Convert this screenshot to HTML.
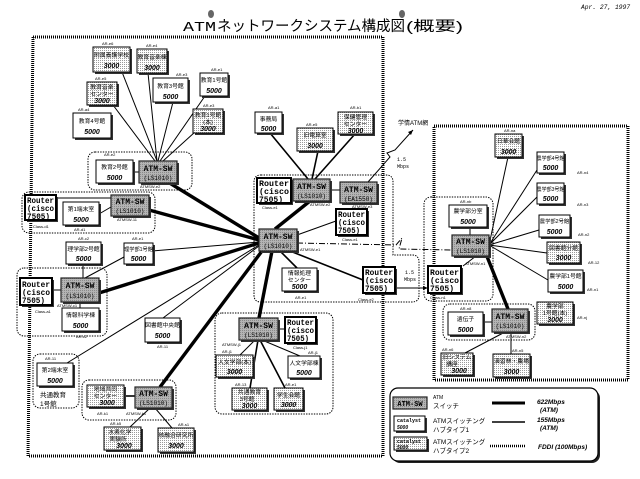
<!DOCTYPE html>
<html><head><meta charset="utf-8">
<style>
html,body{margin:0;padding:0;background:#fff;}
svg{display:block;}
.s{fill:#333}
.w{fill:#fff;stroke:#000;stroke-width:1}
.d{fill:url(#dt);stroke:#000;stroke-width:1}
.g{fill:url(#gr);stroke:#222;stroke-width:1.2}
.r{fill:#fff;stroke:#000;stroke-width:2}
.c{fill:none;stroke:#000;stroke-width:1;stroke-dasharray:1.4 1.2}
.f{fill:none;stroke:#000;stroke-width:3;stroke-dasharray:1 1}
.l1{stroke:#000;stroke-width:1;fill:none}
.l2{stroke:#000;stroke-width:1.6;fill:none}
.l3{stroke:#000;stroke-width:3.4;fill:none}
text{font-family:"Liberation Sans","Noto Sans CJK JP",sans-serif}
.j{font-size:5.8px;text-anchor:middle}
.n{font-size:7px;font-style:italic;font-weight:bold;text-anchor:middle}
.t{font-size:4px;font-family:"Liberation Mono",monospace}
.m{font-size:8px;font-family:"Liberation Mono",monospace;font-weight:bold;text-anchor:middle}
.ms{font-size:6px;font-family:"Liberation Mono",monospace;text-anchor:middle}
.rt{font-size:8px;font-family:"Liberation Mono",monospace;font-weight:bold}
.lg{font-size:6.5px}
.li{font-size:6.5px;font-style:italic;font-weight:bold}
</style></head>
<body>
<svg width="640" height="479" viewBox="0 0 640 479" xmlns="http://www.w3.org/2000/svg">
<defs>
<pattern id="dt" width="2" height="2" patternUnits="userSpaceOnUse"><rect width="2" height="2" fill="#fff"/><rect width="1" height="1" fill="#9a9a9a"/></pattern>
<pattern id="gr" width="2" height="2" patternUnits="userSpaceOnUse"><rect width="2" height="2" fill="#b4b4b4"/><rect width="1" height="1" fill="#8a8a8a"/></pattern>
</defs>

<!-- title -->
<ellipse cx="211" cy="14" rx="3" ry="4" fill="#666"/>
<ellipse cx="402" cy="14" rx="3" ry="4" fill="#666"/>
<text x="183" y="31" font-size="14" textLength="33" lengthAdjust="spacingAndGlyphs" style="font-family:'Liberation Mono',monospace">ATM</text>
<text x="217" y="31" font-size="14.5" textLength="188" lengthAdjust="spacingAndGlyphs" style="font-weight:normal">ネットワークシステム構成図</text>
<text x="406" y="31" font-size="14" textLength="57" lengthAdjust="spacingAndGlyphs">(概要)</text>
<text x="581" y="9" style="font-family:'Liberation Mono',monospace;font-size:6.3px;font-style:italic">Apr. 27, 1997</text>

<!-- frames -->
<polygon class="f" points="33,37 383,37 383,456 28,456"/>
<rect class="f" x="434" y="126" width="194" height="254"/>

<!-- clusters -->
<rect class="c" x="88" y="152" width="104" height="38" rx="7"/>
<rect class="c" x="22" y="192" width="133" height="41" rx="7"/>
<rect class="c" x="17" y="268" width="90" height="68" rx="7"/>
<rect class="c" x="33" y="354" width="46" height="54" rx="7"/>
<rect class="c" x="82" y="380" width="94" height="40" rx="7"/>
<path class="c" d="M261,175 H386 Q393,175 393,182 V255 H412 Q419,255 419,262 V295 Q419,302 412,302 H261 Q254,302 254,295 V182 Q254,175 261,175 Z"/>
<rect class="c" x="215" y="313" width="118" height="101" rx="7"/>
<rect class="c" x="424" y="197" width="69" height="104" rx="7"/>
<rect class="c" x="443" y="304" width="92" height="36" rx="7"/>

<!-- lines top-left -->
<line class="l1" x1="122" y1="72" x2="157" y2="161"/>
<line class="l1" x1="148" y1="73" x2="157" y2="161"/>
<line class="l1" x1="173" y1="102" x2="158" y2="161"/>
<line class="l1" x1="205" y1="96" x2="160" y2="161"/>
<line class="l1" x1="113" y1="105" x2="155" y2="161"/>
<line class="l1" x1="195" y1="132" x2="163" y2="161"/>
<line class="l1" x1="133" y1="172" x2="139" y2="172"/>
<!-- row 2,3 -->
<line class="l1" x1="56" y1="198" x2="111" y2="198"/>
<line class="l1" x1="99" y1="214" x2="111" y2="207"/>
<line class="l1" x1="83" y1="264" x2="83" y2="278"/>
<line class="l1" x1="124" y1="257" x2="85" y2="278"/>
<line class="l1" x1="80" y1="302" x2="80" y2="308"/>
<line class="l1" x1="52" y1="290" x2="61" y2="290"/>
<!-- hub lines -->
<line class="l3" x1="168" y1="182" x2="259" y2="238"/>
<line class="l3" x1="149" y1="210" x2="259" y2="240"/>
<line class="l3" x1="99" y1="293" x2="259" y2="243"/>
<line class="l1" x1="152" y1="251" x2="259" y2="242"/>
<line class="l1" x1="67" y1="363" x2="259" y2="245"/>
<line class="l1" x1="163" y1="318" x2="259" y2="246"/>
<line class="l3" x1="160" y1="387" x2="262" y2="251"/>
<line class="l3" x1="272" y1="251" x2="259" y2="318"/>
<line class="l2" x1="280" y1="251" x2="297" y2="268"/>
<line class="l2" x1="290" y1="251" x2="363" y2="280"/>
<line class="l3" x1="275" y1="229" x2="310" y2="201"/>
<line class="l1" x1="297" y1="235" x2="336" y2="221"/>
<!-- center top -->
<line class="l2" x1="270" y1="133" x2="308" y2="179"/>
<line class="l2" x1="318" y1="151" x2="312" y2="179"/>
<line class="l2" x1="355" y1="134" x2="315" y2="179"/>
<line class="l1" x1="291" y1="190" x2="293" y2="190"/>
<line class="l1" x1="330" y1="190" x2="340" y2="190"/>
<polyline class="l1" points="368,182 390,157 387,153 395,150 413,130"/>
<polygon points="413,130 408,132 411,135" fill="#000"/>
<text class="t" x="397" y="161" style="font-size:5px">1.5</text>
<text class="t" x="397" y="168" style="font-size:5px">Mbps</text>
<text x="398" y="125" style="font-size:6px">学情ATM網</text>
<!-- dash-dot -->
<polyline class="l1" style="stroke-dasharray:6 2 1 2" points="297,243 396,245 402,238 399,249 452,250"/>
<line class="l1" x1="395" y1="288" x2="426" y2="288"/>
<polygon points="428,288 423,286 423,290" fill="#000"/>
<text class="t" x="405" y="274" style="font-size:5px">1.5</text>
<text class="t" x="404" y="281" style="font-size:5px">Mbps</text>
<!-- bottom center lines -->
<line class="l1" x1="278" y1="329" x2="285" y2="329"/>
<line class="l1" x1="255" y1="340" x2="240" y2="355"/>
<line class="l2" x1="258" y1="340" x2="250" y2="388"/>
<line class="l2" x1="260" y1="340" x2="285" y2="388"/>
<line class="l1" x1="262" y1="340" x2="300" y2="356"/>
<!-- lower left -->
<line class="l2" x1="124" y1="396" x2="135" y2="396"/>
<line class="l1" x1="150" y1="408" x2="130" y2="427"/>
<line class="l1" x1="155" y1="408" x2="172" y2="428"/>
<!-- right lines -->
<line class="l1" x1="489" y1="245" x2="508" y2="157"/>
<line class="l1" x1="489" y1="245" x2="537" y2="170"/>
<line class="l1" x1="489" y1="245" x2="537" y2="197"/>
<line class="l1" x1="489" y1="245" x2="539" y2="230"/>
<line class="l1" x1="489" y1="245" x2="547" y2="253"/>
<line class="l1" x1="489" y1="245" x2="548" y2="280"/>
<line class="l3" x1="486" y1="254" x2="508" y2="309"/>
<line class="l1" x1="470" y1="227" x2="470" y2="235"/>
<line class="l1" x1="476" y1="256" x2="463" y2="266"/>
<line class="l1" x1="483" y1="322" x2="492" y2="322"/>
<line class="l1" x1="505" y1="332" x2="465" y2="353"/>
<line class="l1" x1="511" y1="332" x2="511" y2="354"/>

<!-- ===== boxes ===== -->
<!-- top-left -->
<rect class="s" x="95" y="49" width="37" height="25"/><rect class="d" x="93" y="47" width="37" height="25"/>
<text class="j" x="111.5" y="57">附属養護学校</text><text class="n" x="111.5" y="68">3000</text>
<rect class="s" x="139" y="51" width="30" height="24"/><rect class="d" x="137" y="49" width="30" height="24"/>
<text class="j" x="152" y="59">教育音楽棟</text><text class="n" x="152" y="70">3000</text>
<rect class="s" x="155" y="80" width="35" height="24"/><rect class="w" x="153" y="78" width="35" height="24"/>
<text class="j" x="170.5" y="88">教育3号館</text><text class="n" x="170.5" y="99">5000</text>
<rect class="s" x="202" y="75" width="28" height="23"/><rect class="w" x="200" y="73" width="28" height="23"/>
<text class="j" x="214" y="82">教育1号館</text><text class="n" x="214" y="93">5000</text>
<rect class="s" x="89" y="84" width="30" height="23"/><rect class="d" x="87" y="82" width="30" height="23"/>
<text class="j" x="102" y="89">教育音楽</text><text class="j" x="102" y="96">センター</text><text class="n" x="102" y="103">3000</text>
<rect class="s" x="75" y="115" width="38" height="25"/><rect class="w" x="73" y="113" width="38" height="25"/>
<text class="j" x="92" y="123">教育4号館</text><text class="n" x="92" y="134">5000</text>
<rect class="s" x="195" y="111" width="30" height="24"/><rect class="d" x="193" y="109" width="30" height="24"/>
<text class="j" x="208" y="117">教育1号館</text><text class="j" x="208" y="124">(本)</text><text class="n" x="208" y="131">3000</text>
<rect class="s" x="98" y="162" width="37" height="23"/><rect class="w" x="96" y="160" width="37" height="23"/>
<text class="j" x="114.5" y="169">教育2号館</text><text class="n" x="114.5" y="180">5000</text>
<rect class="s" x="141" y="163" width="38" height="22"/><rect class="g" x="139" y="161" width="38" height="22"/>
<text class="m" x="158" y="171">ATM-SW</text><text class="ms" x="158" y="180">(LS1010)</text>

<!-- row 2 -->
<rect class="s" x="27" y="197" width="31" height="25"/><rect class="r" x="25" y="195" width="31" height="25"/>
<text class="rt" x="27" y="203" textLength="27" lengthAdjust="spacingAndGlyphs">Router</text><text class="rt" x="27" y="211" textLength="27" lengthAdjust="spacingAndGlyphs">(cisco</text><text class="rt" x="27" y="219" textLength="23" lengthAdjust="spacingAndGlyphs">7505)</text>
<rect class="s" x="65" y="204" width="36" height="23"/><rect class="w" x="63" y="202" width="36" height="23"/>
<text class="j" x="81" y="211">第1端末室</text><text class="n" x="81" y="222">5000</text>
<rect class="s" x="113" y="197" width="38" height="21"/><rect class="g" x="111" y="195" width="38" height="21"/>
<text class="m" x="130" y="204">ATM-SW</text><text class="ms" x="130" y="213">(LS1010)</text>

<!-- row 3 -->
<rect class="s" x="68" y="244" width="35" height="22"/><rect class="w" x="66" y="242" width="35" height="22"/>
<text class="j" x="83.5" y="251">理学部2号館</text><text class="n" x="83.5" y="261">5000</text>
<rect class="s" x="126" y="245" width="29" height="21"/><rect class="w" x="124" y="243" width="29" height="21"/>
<text class="j" x="138.5" y="251" style="font-size:5.2px">理学部1号館</text><text class="n" x="138.5" y="261">5000</text>
<rect class="s" x="22" y="280" width="32" height="27"/><rect class="r" x="20" y="278" width="32" height="27"/>
<text class="rt" x="22" y="287" textLength="28" lengthAdjust="spacingAndGlyphs">Router</text><text class="rt" x="22" y="295" textLength="28" lengthAdjust="spacingAndGlyphs">(cisco</text><text class="rt" x="22" y="303" textLength="23" lengthAdjust="spacingAndGlyphs">7505)</text>
<rect class="s" x="63" y="280" width="38" height="24"/><rect class="g" x="61" y="278" width="38" height="24"/>
<text class="m" x="80" y="288">ATM-SW</text><text class="ms" x="80" y="298">(LS1010)</text>
<rect class="s" x="64" y="310" width="37" height="23"/><rect class="w" x="62" y="308" width="37" height="23"/>
<text class="j" x="80.5" y="317">情報科学棟</text><text class="n" x="80.5" y="328">5000</text>

<rect class="s" x="147" y="320" width="35" height="24"/><rect class="w" x="145" y="318" width="35" height="24"/>
<text class="j" x="162.5" y="327">図書館中央館</text><text class="n" x="162.5" y="338">5000</text>
<rect class="s" x="39" y="365" width="36" height="23"/><rect class="w" x="37" y="363" width="36" height="23"/>
<text class="j" x="55" y="372">第2端末室</text><text class="n" x="55" y="383">5000</text>
<text x="40" y="397" style="font-size:6.5px">共通教育</text><text x="40" y="406" style="font-size:6.5px">1号館</text>

<rect class="s" x="89" y="387" width="37" height="22"/><rect class="d" x="87" y="385" width="37" height="22"/>
<text class="j" x="105.5" y="391">地域共同</text><text class="j" x="105.5" y="398">センター</text><text class="n" x="107" y="405">3000</text>
<rect class="s" x="137" y="389" width="37" height="21"/><rect class="g" x="135" y="387" width="37" height="21"/>
<text class="m" x="153.5" y="396">ATM-SW</text><text class="ms" x="153.5" y="405">(LS1010)</text>
<rect class="s" x="106" y="429" width="37" height="23"/><rect class="d" x="104" y="427" width="37" height="23"/>
<text class="j" x="120" y="434">水素化学</text><text class="j" x="118" y="441">実験所</text><text class="n" x="124" y="448">3000</text>
<rect class="s" x="160" y="430" width="36" height="24"/><rect class="d" x="158" y="428" width="36" height="24"/>
<text class="j" x="176" y="437">核融合研究所</text><text class="n" x="176" y="448">3000</text>

<!-- center -->
<rect class="s" x="257" y="114" width="27" height="21"/><rect class="w" x="255" y="112" width="27" height="21"/>
<text class="j" x="268.5" y="121">事務局</text><text class="n" x="268.5" y="131">5000</text>
<rect class="s" x="299" y="130" width="36" height="23"/><rect class="d" x="297" y="128" width="36" height="23"/>
<text class="j" x="315" y="137">旧電算室</text><text class="n" x="315" y="148">3000</text>
<rect class="s" x="340" y="114" width="35" height="22"/><rect class="d" x="338" y="112" width="35" height="22"/>
<text class="j" x="355.5" y="119">保健管理</text><text class="j" x="355.5" y="126">センター</text><text class="n" x="355.5" y="133">3000</text>
<rect class="s" x="259" y="180" width="34" height="25"/><rect class="r" x="257" y="178" width="34" height="25"/>
<text class="rt" x="259" y="186" textLength="30" lengthAdjust="spacingAndGlyphs">Router</text><text class="rt" x="259" y="194" textLength="30" lengthAdjust="spacingAndGlyphs">(cisco</text><text class="rt" x="259" y="202" textLength="24" lengthAdjust="spacingAndGlyphs">7505)</text>
<rect class="s" x="295" y="181" width="37" height="22"/><rect class="g" x="293" y="179" width="37" height="22"/>
<text class="m" x="311.5" y="189">ATM-SW</text><text class="ms" x="311.5" y="198">(LS1010)</text>
<rect class="s" x="342" y="184" width="37" height="21"/><rect class="g" x="340" y="182" width="37" height="21"/>
<text class="m" x="358.5" y="192">ATM-SW</text><text class="ms" x="358.5" y="201">(EA1550)</text>
<rect class="s" x="338" y="211" width="31" height="26"/><rect class="r" x="336" y="209" width="31" height="26"/>
<text class="rt" x="338" y="217" textLength="27" lengthAdjust="spacingAndGlyphs">Router</text><text class="rt" x="338" y="225" textLength="27" lengthAdjust="spacingAndGlyphs">(cisco</text><text class="rt" x="338" y="233" textLength="22" lengthAdjust="spacingAndGlyphs">7505)</text>
<rect class="s" x="261" y="231" width="38" height="22"/><rect class="g" x="259" y="229" width="38" height="22"/>
<text class="m" x="278" y="239">ATM-SW</text><text class="ms" x="278" y="248">(LS1010)</text>
<rect class="s" x="284" y="270" width="35" height="23"/><rect class="w" x="282" y="268" width="35" height="23"/>
<text class="j" x="299.5" y="275">情報処理</text><text class="j" x="299.5" y="282">センター</text><text class="n" x="299.5" y="289">5000</text>
<rect class="s" x="365" y="269" width="32" height="26"/><rect class="r" x="363" y="267" width="32" height="26"/>
<text class="rt" x="365" y="275" textLength="28" lengthAdjust="spacingAndGlyphs">Router</text><text class="rt" x="365" y="283" textLength="28" lengthAdjust="spacingAndGlyphs">(cisco</text><text class="rt" x="365" y="291" textLength="23" lengthAdjust="spacingAndGlyphs">7505)</text>

<!-- bottom center -->
<rect class="s" x="241" y="320" width="39" height="22"/><rect class="g" x="239" y="318" width="39" height="22"/>
<text class="m" x="258.5" y="328">ATM-SW</text><text class="ms" x="258.5" y="337">(LS1010)</text>
<rect class="s" x="287" y="319" width="31" height="26"/><rect class="r" x="285" y="317" width="31" height="26"/>
<text class="rt" x="287" y="325" textLength="27" lengthAdjust="spacingAndGlyphs">Router</text><text class="rt" x="287" y="333" textLength="27" lengthAdjust="spacingAndGlyphs">(cisco</text><text class="rt" x="287" y="341" textLength="22" lengthAdjust="spacingAndGlyphs">7505)</text>
<rect class="s" x="218" y="357" width="37" height="22"/><rect class="d" x="216" y="355" width="37" height="22"/>
<text class="j" x="234.5" y="364">人文学部(本)</text><text class="n" x="234.5" y="374">3000</text>
<rect class="s" x="290" y="358" width="32" height="22"/><rect class="w" x="288" y="356" width="32" height="22"/>
<text class="j" x="304" y="365">人文学部棟</text><text class="n" x="304" y="375">5000</text>
<rect class="s" x="234" y="390" width="35" height="22"/><rect class="d" x="232" y="388" width="35" height="22"/>
<text class="j" x="249.5" y="394">共通教育</text><text class="j" x="247" y="401">3号館</text><text class="n" x="249.5" y="408">3000</text>
<rect class="s" x="276" y="390" width="29" height="22"/><rect class="d" x="274" y="388" width="29" height="22"/>
<text class="j" x="288.5" y="397">学生会館</text><text class="n" x="288.5" y="407">3000</text>

<!-- right -->
<rect class="s" x="497" y="136" width="27" height="23"/><rect class="d" x="495" y="134" width="27" height="23"/>
<text class="j" x="508.5" y="143">日華会館</text><text class="n" x="508.5" y="154">3000</text>
<rect class="s" x="539" y="154" width="27" height="21"/><rect class="w" x="537" y="152" width="27" height="21"/>
<text class="j" x="550.5" y="160" style="font-size:5px">農学部4号館</text><text class="n" x="550.5" y="170">5000</text>
<rect class="s" x="539" y="185" width="27" height="21"/><rect class="w" x="537" y="183" width="27" height="21"/>
<text class="j" x="550.5" y="191" style="font-size:5px">農学部3号館</text><text class="n" x="550.5" y="201">5000</text>
<rect class="s" x="541" y="217" width="31" height="22"/><rect class="w" x="539" y="215" width="31" height="22"/>
<text class="j" x="554.5" y="223" style="font-size:5.3px">農学部2号館</text><text class="n" x="554.5" y="234">5000</text>
<rect class="s" x="549" y="244" width="33" height="21"/><rect class="d" x="547" y="242" width="33" height="21"/>
<text class="j" x="563.5" y="250">図書館分館</text><text class="n" x="563.5" y="260">3000</text>
<rect class="s" x="550" y="272" width="35" height="22"/><rect class="w" x="548" y="270" width="35" height="22"/>
<text class="j" x="565.5" y="278">農学部1号館</text><text class="n" x="565.5" y="289">5000</text>
<rect class="s" x="539" y="304" width="36" height="22"/><rect class="d" x="537" y="302" width="36" height="22"/>
<text class="j" x="555" y="308">農学部</text><text class="j" x="555" y="315">1号館(本)</text><text class="n" x="555" y="322">3000</text>
<rect class="s" x="451" y="207" width="38" height="22"/><rect class="w" x="449" y="205" width="38" height="22"/>
<text class="j" x="468" y="213">農学部分室</text><text class="n" x="468" y="224">5000</text>
<rect class="s" x="454" y="237" width="37" height="21"/><rect class="g" x="452" y="235" width="37" height="21"/>
<text class="m" x="470.5" y="244">ATM-SW</text><text class="ms" x="470.5" y="253">(LS1010)</text>
<rect class="s" x="430" y="268" width="33" height="27"/><rect class="r" x="428" y="266" width="33" height="27"/>
<text class="rt" x="430" y="275" textLength="29" lengthAdjust="spacingAndGlyphs">Router</text><text class="rt" x="430" y="283" textLength="29" lengthAdjust="spacingAndGlyphs">(cisco</text><text class="rt" x="430" y="291" textLength="24" lengthAdjust="spacingAndGlyphs">7505)</text>
<rect class="s" x="450" y="314" width="35" height="23"/><rect class="w" x="448" y="312" width="35" height="23"/>
<text class="j" x="465.5" y="321">遺伝子</text><text class="n" x="465.5" y="332">5000</text>
<rect class="s" x="494" y="311" width="36" height="23"/><rect class="g" x="492" y="309" width="36" height="23"/>
<text class="m" x="510" y="319">ATM-SW</text><text class="ms" x="510" y="328">(LS1010)</text>
<rect class="s" x="443" y="355" width="32" height="22"/><rect class="d" x="441" y="353" width="32" height="22"/>
<text class="j" x="457" y="359">旧システム</text><text class="j" x="452" y="366">講座</text><text class="n" x="459" y="373">3000</text>
<rect class="s" x="495" y="356" width="37" height="23"/><rect class="d" x="493" y="354" width="37" height="23"/>
<text class="j" x="511.5" y="363">演習林・農場</text><text class="n" x="511.5" y="374">3000</text>

<!-- tiny labels -->
<g class="t">
<text x="102" y="45">AR-e6</text><text x="146" y="47">AR-e4</text><text x="176" y="76">AR-e3</text><text x="211" y="71">AR-e1</text>
<text x="95" y="80">AR-e5</text><text x="78" y="111">AR-a4</text><text x="203" y="107">AR-e3</text><text x="104" y="156">AR-e2</text>
<text x="140" y="188">ATMSW-e2</text><text x="33" y="228">Class-d1</text><text x="74" y="231">AR-d1</text><text x="117" y="221">ATMSW-11</text>
<text x="78" y="240">AR-c2</text><text x="132" y="240">AR-e1</text><text x="57" y="307">ATMSW-c1</text><text x="35" y="313">Class-a1</text>
<text x="76" y="338">AR-c2</text><text x="157" y="348">AR-11</text><text x="45" y="360">AR-11</text><text x="97" y="415">AR-k1</text>
<text x="126" y="415">ATMSW-k1</text><text x="110" y="425">AR-k5</text><text x="178" y="426">AR-s1</text>
<text x="268" y="109">AR-a1</text><text x="306" y="126">AR-e5</text><text x="350" y="109">AR-b1</text>
<text x="262" y="209">Class-e1</text><text x="310" y="206">ATMSW-e2</text><text x="352" y="208">ATMSW-e3</text><text x="342" y="241">Class-e1</text>
<text x="300" y="251">ATMSW-e1</text><text x="295" y="299">AR-e1</text><text x="358" y="301">Class-e2</text>
<text x="222" y="346">ATMSW-j1</text><text x="293" y="349">Class-j1</text><text x="222" y="353">AR-j1</text><text x="308" y="354">AR-j1</text>
<text x="235" y="386">AR-13</text><text x="285" y="386">AR-e1</text>
<text x="504" y="132">AR-na</text><text x="577" y="174">AR-n4</text><text x="577" y="206">AR-n3</text><text x="578" y="236">AR-n2</text>
<text x="588" y="264">AR-12</text><text x="587" y="291">AR-n1</text><text x="577" y="319">AR-nj</text><text x="460" y="203">AR-nb</text>
<text x="465" y="265">ATMSW-n1</text><text x="430" y="299">Class-n1</text><text x="460" y="310">AR-n8</text><text x="506" y="338">ATMSW-n2</text>
<text x="442" y="351">AR-n6</text><text x="512" y="352">AR-n5</text>
</g>

<!-- legend -->
<rect x="392" y="390" width="208" height="73" rx="8" fill="#222"/>
<rect x="390" y="388" width="208" height="73" rx="8" fill="#fff" stroke="#000" stroke-width="1.2"/>
<rect class="g" x="393" y="397" width="34" height="12"/>
<text class="m" x="410" y="406" style="font-size:7px">ATM-SW</text>
<text class="lg" x="433" y="399" style="font-size:5px">ATM</text>
<text class="lg" x="433" y="408">スイッチ</text>
<line x1="492" y1="403" x2="525" y2="403" stroke="#000" stroke-width="3"/>
<text class="li" x="537" y="404">622Mbps</text><text class="li" x="540" y="412">(ATM)</text>
<rect x="396" y="418" width="31" height="15" fill="#333"/>
<rect class="w" x="394" y="416" width="31" height="15"/>
<text x="397" y="422" style="font-size:5px;font-family:'Liberation Mono',monospace;font-weight:bold">catalyst</text>
<text x="397" y="429" style="font-size:5px;font-style:italic;font-weight:bold">5000</text>
<text class="lg" x="433" y="423">ATMスイッチング</text>
<text class="lg" x="433" y="432">ハブタイプ1</text>
<line x1="492" y1="422" x2="525" y2="422" stroke="#000" stroke-width="1.4"/>
<text class="li" x="537" y="422">155Mbps</text><text class="li" x="540" y="430">(ATM)</text>
<rect x="396" y="439" width="33" height="13" fill="#333"/>
<rect class="d" x="394" y="437" width="33" height="13"/>
<text x="397" y="443" style="font-size:5px;font-family:'Liberation Mono',monospace;font-weight:bold">catalyst</text>
<text x="397" y="449" style="font-size:5px;font-style:italic;font-weight:bold">5000</text>
<text class="lg" x="433" y="444">ATMスイッチング</text>
<text class="lg" x="433" y="453">ハブタイプ2</text>
<line x1="490" y1="446" x2="525" y2="446" stroke="#000" stroke-width="2.5" stroke-dasharray="1 1"/>
<text class="li" x="538" y="449">FDDI (100Mbps)</text>
</svg>
</body></html>
